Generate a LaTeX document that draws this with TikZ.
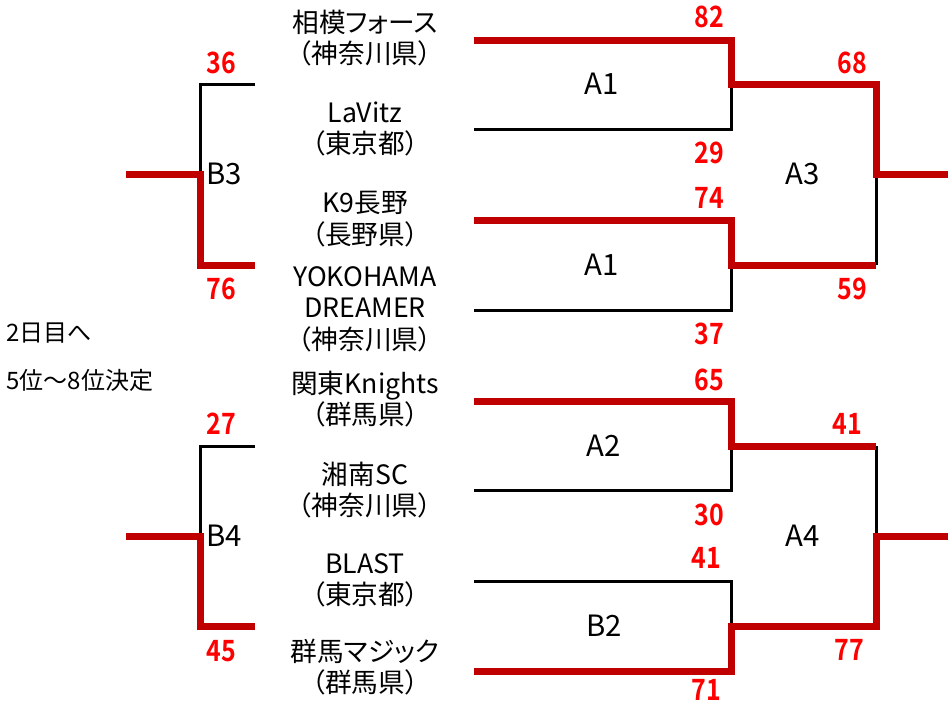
\documentclass[tikz,border=0pt]{standalone}
\usepackage{fontspec}
\setmainfont{Noto Sans CJK JP}[CharacterWidth=AlternateProportional]
\newfontfamily\scorefont{Noto Sans CJK JP Bold}[FakeStretch=0.85]
\definecolor{winred}{RGB}{192,0,0}
\definecolor{scorered}{RGB}{255,0,0}
\tikzset{every picture/.style={line width=0.75pt},
  win/.style={draw=winred, line width=5.25pt},
  lose/.style={draw=black, line width=2.25pt},
  team/.style={align=center, inner sep=0.75pt, font=\fontsize{20}{23.5}\selectfont},
  game/.style={inner sep=0.75pt, font=\fontsize{22}{26}\selectfont},
  score/.style={inner sep=0.75pt, text=scorered, font=\scorefont\fontsize{22}{26}\selectfont},
  note/.style={anchor=west, inner sep=0.75pt, font=\fontsize{18}{21}\selectfont}}

\begin{document}
\begin{tikzpicture}[x=0.75pt,y=0.75pt,yscale=-1,xscale=1]
\useasboundingbox (0,0) rectangle (948,703);

%Bracket points, right side
\coordinate (r1) at (474,40);
\coordinate (r2) at (474,129);
\coordinate (r3) at (474,220);
\coordinate (r4) at (474,310);
\coordinate (r5) at (474,401);
\coordinate (r6) at (474,490);
\coordinate (r7) at (474,581);
\coordinate (r8) at (474,671);
\coordinate (m1) at (731,84);
\coordinate (m2) at (731,265);
\coordinate (m3) at (731,446);
\coordinate (m4) at (731,626);
\coordinate (u1) at (876,84);
\coordinate (u2) at (876,265);
\coordinate (u3) at (876,446);
\coordinate (u4) at (876,626);
\coordinate (f1) at (876,174);
\coordinate (f2) at (876,536);
\coordinate (e1) at (948,174);
\coordinate (e2) at (948,536);
%Bracket points, left side
\coordinate (l1) at (255,84);
\coordinate (l2) at (255,265);
\coordinate (l3) at (255,446);
\coordinate (l4) at (255,626);
\coordinate (b3) at (200,174);
\coordinate (b4) at (200,536);
\coordinate (x0) at (126,174);
\coordinate (x1) at (126,536);

%Straight Lines, lost games
\draw [lose] (r2) -| (m1);
\draw [lose] (r4) -| (m2);
\draw [lose] (r6) -| (m3);
\draw [lose] (r7) -| (m4);
\draw [lose] (u2) -- (f1);
\draw [lose] (u3) -- (f2);
\draw [lose] (l1) -| (b3);
\draw [lose] (l3) -| (b4);
%Straight Lines, won games
\draw [win] (r1) -| (m1) -- (u1) -- (f1) -- (e1);
\draw [win] (r3) -| (m2) -- (u2);
\draw [win] (r5) -| (m3) -- (u3);
\draw [win] (r8) -| (m4) -- (u4) -- (f2) -- (e2);
\draw [win] (l2) -| (b3) -- (x0);
\draw [win] (l4) -| (b4) -- (x1);

% Text Node
\draw (365,38) node [team] (t1) {相模フォース\\（神奈川県）};
% Text Node
\draw (365,129) node [team] (t2) {LaVitz\\（東京都）};
% Text Node
\draw (365,219) node [team] (t3) {K9長野\\（長野県）};
% Text Node
\draw (365,309) node [team] (t4) {YOKOHAMA\\DREAMER\\（神奈川県）};
% Text Node
\draw (365,399) node [team] (t5) {関東Knights\\（群馬県）};
% Text Node
\draw (365,490) node [team] (t6) {湘南SC\\（神奈川県）};
% Text Node
\draw (365,580) node [team] (t7) {BLAST\\（東京都）};
% Text Node
\draw (365,667) node [team] (t8) {群馬マジック\\（群馬県）};

% Text Node
\draw (602,84) node [game] (ga1) {A1};
% Text Node
\draw (602,265) node [game] (gb1) {A1};
% Text Node
\draw (604,446) node [game] (ga2) {A2};
% Text Node
\draw (604,626) node [game] (gb2) {B2};
% Text Node
\draw (803,174) node [game] (ga3) {A3};
% Text Node
\draw (803,536) node [game] (ga4) {A4};
% Text Node
\draw (205,174) node [game, anchor=west] (gb3) {B3};
% Text Node
\draw (205,536) node [game, anchor=west] (gb4) {B4};

% Text Node
\draw (709,17) node [score] (s1) {82};
% Text Node
\draw (709,153) node [score] (s2) {29};
% Text Node
\draw (709,198) node [score] (s3) {74};
% Text Node
\draw (709,334) node [score] (s4) {37};
% Text Node
\draw (709,380) node [score] (s5) {65};
% Text Node
\draw (709,515) node [score] (s6) {30};
% Text Node
\draw (706,558) node [score] (s7) {41};
% Text Node
\draw (706,690) node [score] (s8) {71};
% Text Node
\draw (852,63) node [score] (s9) {68};
% Text Node
\draw (852,289) node [score] (s10) {59};
% Text Node
\draw (847,424) node [score] (s11) {41};
% Text Node
\draw (849,650) node [score] (s12) {77};
% Text Node
\draw (221,63) node [score] (s13) {36};
% Text Node
\draw (221,289) node [score] (s14) {76};
% Text Node
\draw (221,424) node [score] (s15) {27};
% Text Node
\draw (221,651) node [score] (s16) {45};

% Text Node
\draw (5,333) node [note] (n1) {2日目へ};
% Text Node
\draw (5,380) node [note] (n2) {5位～8位決定};

\end{tikzpicture}
\end{document}
